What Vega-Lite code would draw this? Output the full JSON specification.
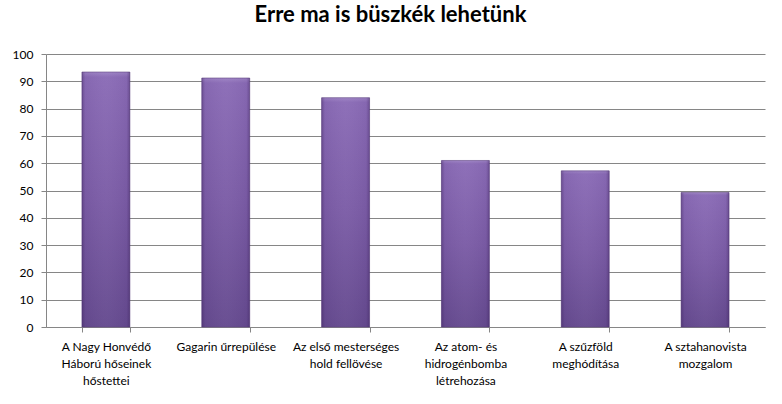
{
  "$schema": "https://vega.github.io/schema/vega-lite/v6.json",
  "width": 719,
  "height": 273,
  "autosize": {"type": "none"},
  "padding": {"left": 46, "top": 54, "right": 17, "bottom": 77},
  "background": "white",
  "title": {
    "text": "Erre ma is büszkék lehetünk",
    "font": "Lato",
    "fontSize": 22,
    "fontWeight": "bold",
    "color": "black",
    "anchor": "middle",
    "offset": 21,
    "dx": -15
  },
  "data": {
    "values": [
      {"event": "A Nagy Honvédő|Háború hőseinek|hőstettei", "pct": 93.4},
      {"event": "Gagarin űrrepülése", "pct": 91.2},
      {"event": "Az első mesterséges|hold fellövése", "pct": 84},
      {"event": "Az atom-  és|hidrogénbomba|létrehozása", "pct": 61},
      {"event": "A szűzföld|meghódítása", "pct": 57.2},
      {"event": "A sztahanovista|mozgalom", "pct": 49.3}
    ]
  },
  "encoding": {
    "x": {
      "field": "event",
      "type": "nominal",
      "sort": null,
      "title": null,
      "scale": {"paddingInner": 0.6, "paddingOuter": 0.3},
      "axis": {
        "labelAngle": 0,
        "labelExpr": "split(datum.label, '|')",
        "labelLineHeight": 17,
        "labelPadding": 9,
        "labelBaseline": "top",
        "tickBand": "extent",
        "tickSize": 5,
        "tickColor": "#868686",
        "domainColor": "#868686",
        "labelLimit": 200
      }
    },
    "y": {
      "field": "pct",
      "type": "quantitative",
      "title": null,
      "scale": {"domain": [0, 100]},
      "axis": {
        "values": [0, 10, 20, 30, 40, 50, 60, 70, 80, 90, 100],
        "tickSize": 5,
        "labelPadding": 8,
        "tickColor": "#868686",
        "domainColor": "#868686",
        "gridColor": "#868686",
        "grid": true
      }
    }
  },
  "layer": [
    {
      "mark": {
        "type": "bar",
        "stroke": "#5a4080",
        "strokeWidth": 0.6,
        "color": {
          "gradient": "linear",
          "x1": 0, "y1": 0, "x2": 0, "y2": 1,
          "stops": [
            {"offset": 0, "color": "#9d82c4"},
            {"offset": 0.02, "color": "#8a6bb6"},
            {"offset": 0.5, "color": "#7b5ca6"},
            {"offset": 1, "color": "#654a8f"}
          ]
        }
      }
    },
    {
      "mark": {
        "type": "bar",
        "color": {
          "gradient": "linear",
          "x1": 0, "y1": 0, "x2": 1, "y2": 0,
          "stops": [
            {"offset": 0, "color": "rgba(50,25,80,0.35)"},
            {"offset": 0.07, "color": "rgba(50,25,80,0.05)"},
            {"offset": 0.5, "color": "rgba(255,255,255,0.03)"},
            {"offset": 0.93, "color": "rgba(50,25,80,0.05)"},
            {"offset": 1, "color": "rgba(50,25,80,0.35)"}
          ]
        }
      }
    }
  ],
  "config": {
    "view": {"stroke": null},
    "font": "Lato",
    "axis": {
      "labelFont": "Lato",
      "labelFontSize": 12,
      "labelColor": "#000000",
      "grid": false
    }
  }
}
